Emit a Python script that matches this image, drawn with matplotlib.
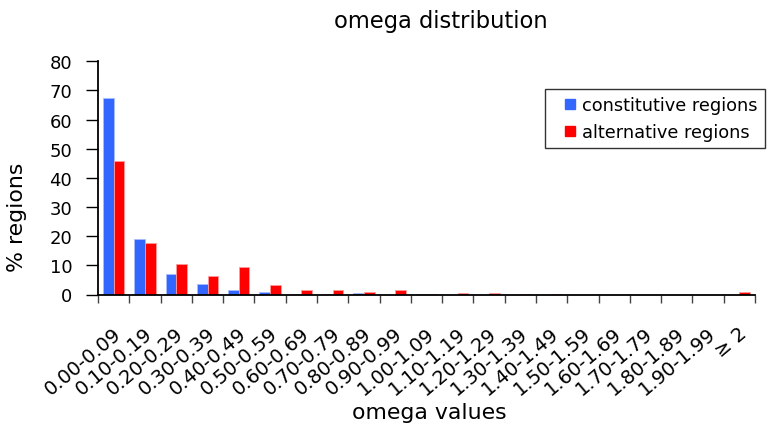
import numpy as np
import matplotlib
matplotlib.use("Agg")
import matplotlib.pyplot as plt
from matplotlib.lines import Line2D
from matplotlib.transforms import ScaledTranslation

plt.rcParams['font.family'] = ['DejaVu Sans']

categories = ['0.00-0.09', '0.10-0.19', '0.20-0.29', '0.30-0.39', '0.40-0.49',
              '0.50-0.59', '0.60-0.69', '0.70-0.79', '0.80-0.89', '0.90-0.99',
              '1.00-1.09', '1.10-1.19', '1.20-1.29', '1.30-1.39', '1.40-1.49',
              '1.50-1.59', '1.60-1.69', '1.70-1.79', '1.80-1.89', '1.90-1.99',
              '\u2265 2']
constitutive = [67.4, 18.9, 7.2, 3.5, 1.5, 0.9, 0.1, 0.1, 0.4, 0.0, 0.1,
                0.0, 0.0, 0.0, 0.0, 0.0, 0.0, 0.0, 0.0, 0.0, 0.0]
alternative = [45.7, 17.5, 10.4, 6.3, 9.4, 3.4, 1.6, 1.5, 0.7, 1.4, 0.1,
               0.4, 0.4, 0.2, 0.2, 0.0, 0.0, 0.0, 0.0, 0.0, 0.7]
yticks = [0, 10, 20, 30, 40, 50, 60, 70, 80]

BLUE = '#3366ff'
RED = '#ff0000'

W, H = 773, 427
fig = plt.figure(figsize=(W / 100, H / 100), dpi=100)
ax = fig.add_axes([98 / W, 1 - 295.5 / H, 657 / W, 233.2 / H])

x = np.arange(len(categories))
bw = 0.34
ax.bar(x - bw / 2, constitutive, width=bw, color=BLUE, edgecolor='#a8bcff',
       linewidth=0.6, label='constitutive regions')
ax.bar(x + bw / 2, alternative, width=bw, color=RED, edgecolor='#ff9a9a',
       linewidth=0.6, label='alternative regions')

ax.set_xlim(-0.5, len(categories) - 0.5)
ax.set_ylim(0, 80)
ax.set_yticks(yticks)
ax.tick_params(axis='y', labelsize=13, length=8.5, width=1, pad=10)

# tick marks at category boundaries, labels at category centres
ax.set_xticks(x)
ax.set_xticklabels(categories, rotation=40, ha='right', va='center',
                   rotation_mode='anchor', fontsize=14)
ax.tick_params(axis='x', which='major', length=0, pad=26)
shift = ScaledTranslation(5 / 100, 0, fig.dpi_scale_trans)
for lbl in ax.get_xticklabels():
    lbl.set_transform(lbl.get_transform() + shift)
ax.set_xticks(np.arange(-0.5, len(categories)), minor=True)
ax.tick_params(axis='x', which='minor', length=6, width=1, color='#444444')

for s in ('top', 'right'):
    ax.spines[s].set_visible(False)
for s in ('left', 'bottom'):
    ax.spines[s].set_linewidth(1.3)

fig.text(441 / W, 1 - 28 / H, 'omega distribution', ha='center',
         va='baseline', fontsize=16.3)
fig.text(429 / W, 1 - 419 / H, 'omega values', ha='center',
         va='baseline', fontsize=15.8)
fig.text(17 / W, 1 - 217 / H, '% regions', ha='center', va='center',
         rotation=90, fontsize=15.8)

handles = [Line2D([], [], linestyle='none', marker='s', markersize=7.5,
                  markerfacecolor=c, markeredgecolor=c) for c in (BLUE, RED)]
fig.legend(handles, ['constitutive regions', 'alternative regions'],
           loc='upper left', bbox_to_anchor=(545 / W, 1 - 90 / H),
           fontsize=12.8, frameon=True, fancybox=False, shadow=False,
           edgecolor='#333333', framealpha=1, borderpad=0.4,
           handlelength=2.0, handletextpad=-0.3, labelspacing=0.5,
           borderaxespad=0)

fig.savefig('out.png', dpi=100)
